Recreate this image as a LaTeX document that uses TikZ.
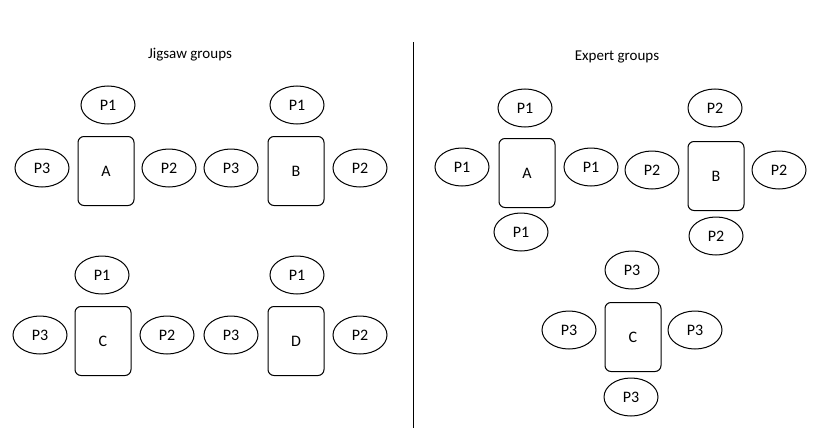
\documentclass[tikz,border=0pt]{standalone}
\usepackage{fontspec}
\setmainfont{Carlito}
\usetikzlibrary{shapes,positioning}
\begin{document}
\begin{tikzpicture}[x=1pt,y=-1pt,
  person/.style={draw,line width=1pt,ellipse,minimum width=54pt,minimum height=38pt,inner sep=0pt,font=\fontsize{16}{18}\selectfont},
  group/.style={draw,line width=1pt,rounded corners=6pt,minimum width=56pt,minimum height=69pt,font=\fontsize{16}{18}\selectfont},
  title/.style={font=\fontsize{15}{17}\selectfont}]
  \useasboundingbox (0,0) rectangle (820,439);

  % jigsaw groups
  \node[title] (jtitle) at (190,55) {Jigsaw groups};
  \node[group] (jA) at (106,171) {A};
  \node[person] (jA1) at (108,105) {P1};
  \node[person] (jA3) at (42,168) {P3};
  \node[person] (jA2) at (169,168) {P2};

  \node[group] (jB) at (296,171) {B};
  \node[person] (jB1) at (297,105) {P1};
  \node[person] (jB3) at (231,168) {P3};
  \node[person] (jB2) at (360,168) {P2};

  \node[group] (jC) at (103,341) {C};
  \node[person] (jC1) at (102,275) {P1};
  \node[person] (jC3) at (40,335) {P3};
  \node[person] (jC2) at (167,335) {P2};

  \node[group] (jD) at (296,341) {D};
  \node[person] (jD1) at (297,275) {P1};
  \node[person] (jD3) at (231,335) {P3};
  \node[person] (jD2) at (360,335) {P2};

  % divider
  \coordinate (top) at (413,42);
  \coordinate (bottom) at (413,428);
  \draw[line width=1pt] (top) -- (bottom);

  % expert groups
  \node[title] (etitle) at (617,57) {Expert groups};
  \node[group] (eA) at (527,173) {A};
  \node[person] (eA1) at (525,108) {P1};
  \node[person] (eA2) at (462,167) {P1};
  \node[person] (eA3) at (591,167) {P1};
  \node[person] (eA4) at (521,232) {P1};

  \node[group] (eB) at (716,176) {B};
  \node[person] (eB1) at (715,108) {P2};
  \node[person] (eB2) at (652,170) {P2};
  \node[person] (eB3) at (779,170) {P2};
  \node[person] (eB4) at (716,236) {P2};

  \node[group] (eC) at (633,337) {C};
  \node[person] (eC1) at (632,270) {P3};
  \node[person] (eC2) at (569,330) {P3};
  \node[person] (eC3) at (695,330) {P3};
  \node[person] (eC4) at (631,397) {P3};
\end{tikzpicture}
\end{document}
